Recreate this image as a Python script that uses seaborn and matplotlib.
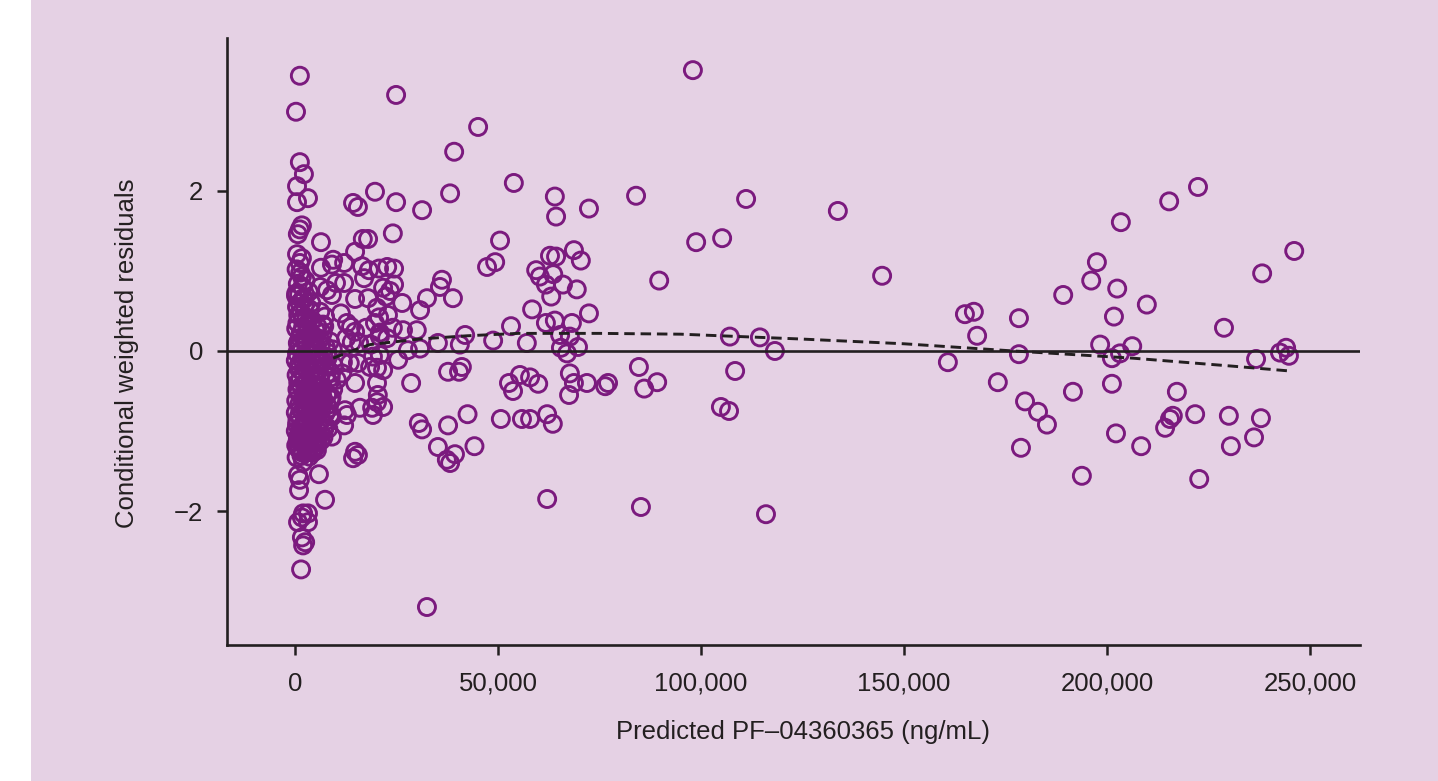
import matplotlib
matplotlib.use("Agg")
import matplotlib.pyplot as plt
from matplotlib.patches import Rectangle
import pandas as pd
import seaborn as sns

# ---------------- data ----------------
# sparse points, 40,000-120,000 ng/mL
pred_a = [98000, 45100, 53900, 64000, 64300, 72400, 84000, 111100, 50500, 49300,
          47300, 98800, 105200, 89700, 62800, 64300, 68700, 70400, 59400, 60300,
          63600, 61800, 66000, 69400, 63100, 58400, 72400, 53200, 61800, 64000,
          68200, 48800, 57100, 65300, 67700, 65500, 67000, 69700, 107100, 114500,
          118200, 84700, 89200, 86000, 108400, 52700, 55400, 57900, 59900, 53700,
          67700, 68700, 67500, 71900, 76400, 77100, 50700, 55900, 57900, 62100,
          63500, 104900, 106900, 62100, 85200, 116000]
cwres_a = [3.51, 2.80, 2.10, 1.93, 1.68, 1.78, 1.94, 1.90, 1.38, 1.11,
           1.05, 1.36, 1.41, 0.88, 1.19, 1.18, 1.26, 1.13, 1.01, 0.93,
           0.96, 0.83, 0.83, 0.77, 0.68, 0.52, 0.47, 0.31, 0.35, 0.38,
           0.35, 0.13, 0.10, 0.20, 0.18, 0.04, -0.03, 0.05, 0.18, 0.17,
           0.00, -0.20, -0.39, -0.47, -0.25, -0.40, -0.30, -0.33, -0.41, -0.50,
           -0.28, -0.40, -0.55, -0.40, -0.44, -0.40, -0.85, -0.85, -0.85, -0.79,
           -0.91, -0.70, -0.75, -1.85, -1.95, -2.04]

# sparse points, above 130,000 ng/mL
pred_r = [133700, 144600, 160800, 165000, 167200, 168000, 173100, 178300, 178300, 179800,
          183000, 185200, 178800, 189200, 191600, 193800, 196100, 197500, 198300, 202500,
          201700, 203200, 201200, 206200, 201200, 209800, 202200, 208400, 217200, 221700,
          215500, 214300, 216200, 222700, 228800, 230000, 230500, 236200, 237900, 236700,
          242600, 244100, 244800, 238200, 246100, 203400, 222400, 215300]
cwres_r = [1.75, 0.94, -0.14, 0.46, 0.49, 0.19, -0.39, 0.41, -0.04, -0.63,
           -0.76, -0.92, -1.21, 0.70, -0.51, -1.56, 0.88, 1.11, 0.08, 0.78,
           0.43, -0.03, -0.09, 0.06, -0.41, 0.58, -1.03, -1.19, -0.51, -0.79,
           -0.85, -0.96, -0.81, -1.60, 0.29, -0.81, -1.19, -1.08, -0.84, -0.10,
           -0.02, 0.04, -0.06, 0.97, 1.25, 1.61, 2.05, 1.87]

# points between 10,000 and 45,000 ng/mL
pred_m = [24900, 39200, 38200, 14300, 15500, 19700, 24900, 31300, 24100, 16700,
          18000, 14800, 12100, 16500, 18200, 20700, 22700, 24400, 10100, 12100,
          14800, 17000, 18000, 21700, 23400, 24400, 22400, 26400, 30800, 32500,
          36200, 35700, 38900, 11300, 12800, 13800, 14800, 17500, 20200, 20700,
          22900, 19700, 20900, 24100, 22700, 30000, 26600, 41900, 35200, 30800,
          40600, 27800, 12600, 14000, 15800, 18700, 20900, 10300, 11600, 11800,
          13500, 14800, 15500, 18500, 20200, 21700, 19200, 20900, 25400, 20200,
          20400, 20200, 19000, 19200, 21700, 16000, 12300, 12800, 12100, 14800,
          15500, 14300, 28600, 30500, 31300, 37700, 40400, 41100, 42500, 44200,
          37700, 35200, 39400, 37400, 38200, 32500]
cwres_m = [3.20, 2.49, 1.97, 1.85, 1.80, 1.99, 1.86, 1.76, 1.47, 1.40,
           1.40, 1.24, 1.10, 1.06, 1.01, 1.03, 1.05, 1.03, 0.85, 0.85,
           0.65, 0.91, 0.66, 0.79, 0.75, 0.83, 0.68, 0.60, 0.51, 0.66,
           0.89, 0.80, 0.66, 0.47, 0.35, 0.30, 0.24, 0.29, 0.54, 0.42,
           0.45, 0.35, 0.23, 0.29, 0.16, 0.26, 0.26, 0.20, 0.10, 0.03,
           0.08, 0.01, 0.16, 0.11, 0.10, 0.08, 0.18, -0.36, -0.28, -0.14,
           -0.15, -0.40, -0.15, -0.20, -0.21, -0.24, -0.07, -0.05, -0.11, -0.40,
           -0.55, -0.64, -0.71, -0.80, -0.70, -0.71, -0.74, -0.80, -0.93, -1.26,
           -1.30, -1.34, -0.40, -0.90, -0.98, -0.26, -0.26, -0.20, -0.79, -1.19,
           -0.93, -1.20, -1.29, -1.36, -1.40, -3.20]

# isolated points below 10,000 ng/mL
pred_l = [1200, 250, 1200, 2200, 500, 3200, 500, 1700, 1200, 700,
          6400, 500, 1700, 1200, 6400, 9400, 9100, 1700, 6200, 7900,
          9100, 250, 2000, 6900, 6200, 7400, 9100, 5400, 2000, 5900,
          7400, 750, 1200, 1000, 2000, 3200, 750, 3200, 1700, 1700,
          2500, 2000, 1500]
cwres_l = [3.44, 2.99, 2.36, 2.21, 2.06, 1.91, 1.86, 1.57, 1.52, 1.46,
           1.36, 1.21, 1.16, 1.10, 1.04, 1.14, 1.08, 0.93, 0.80, 0.76,
           0.70, 0.69, 0.66, 0.33, 0.49, 0.43, -1.07, -1.24, -1.39, -1.54,
           -1.86, -1.55, -1.61, -1.74, -2.03, -2.03, -2.14, -2.14, -2.08, -2.33,
           -2.39, -2.43, -2.73]

# dense cluster below 10,000 ng/mL
pred_c = [400, 1300, 2600, 700, 1800, 3400, 1000, 2300, 4000, 500,
          300, 1100, 2400, 3600, 800, 1900, 4300, 5600, 2900, 300,
          1400, 3100, 4800, 6800, 8600, 2200, 700, 5200, 3800, 1600,
          2700, 4400, 6100, 7600, 9300, 500, 1200, 2000, 3400, 5800,
          200, 900, 1700, 2500, 3300, 4100, 4900, 5700, 6500, 7300,
          8100, 8900, 400, 1300, 2100, 2900, 3700, 4500, 5300, 6100,
          6900, 7700, 8500, 9500, 600, 1500, 2300, 3100, 3900, 4700,
          5500, 6300, 7100, 7900, 8700, 9400, 300, 1100, 1900, 2700,
          3500, 4300, 5100, 5900, 6700, 7500, 8300, 9100, 200, 1000,
          1800, 2600, 3400, 4200, 5000, 5800, 6600, 7400, 8200, 500,
          1400, 2200, 3000, 3800, 4600, 5400, 6200, 7000, 800, 1600,
          2400, 3200, 4000, 4800, 5600, 300, 1200, 2000, 2800, 3600,
          4400, 700, 1600, 2500, 3300, 1000, 2100, 400, 1800, 2900,
          600, 1500, 2800, 3700, 5000, 6400, 7200, 8000, 900, 2000,
          3000, 4600, 5500, 7000, 8800, 1000, 2400, 3500, 6000, 800,
          2000, 3300, 4800, 6700, 7900, 1300, 2700, 4100, 5300, 9000,
          600, 1900, 3100, 4400, 5800, 7200, 8700, 1500, 3700, 6400,
          200, 1200, 2600, 4100, 5100, 700, 1800, 3500, 2300, 900]
cwres_c = [1.02, 0.98, 0.88, 0.84, 0.80, 0.74, 0.70, 0.65, 0.60, 0.55,
           0.72, 0.60, 0.57, 0.52, 0.45, 0.41, 0.38, 0.30, 0.33, 0.28,
           0.22, 0.25, 0.18, 0.22, 0.12, 0.14, 0.10, 0.06, 0.04, 0.00,
           0.08, 0.11, 0.15, 0.05, 0.02, -0.03, 0.16, -0.06, -0.02, -0.08,
           -0.12, -0.18, -0.10, -0.21, -0.14, -0.25, -0.17, -0.22, -0.11, -0.19,
           -0.08, -0.27, -0.30, -0.35, -0.28, -0.38, -0.31, -0.42, -0.36, -0.33,
           -0.45, -0.30, -0.40, -0.18, -0.48, -0.44, -0.52, -0.47, -0.55, -0.50,
           -0.58, -0.51, -0.62, -0.55, -0.60, -0.48, -0.62, -0.66, -0.60, -0.70,
           -0.64, -0.72, -0.68, -0.75, -0.70, -0.78, -0.72, -0.82, -0.77, -0.81,
           -0.76, -0.85, -0.80, -0.88, -0.83, -0.90, -0.86, -0.93, -0.97, -0.92,
           -0.96, -0.91, -1.00, -0.95, -1.04, -0.98, -1.02, -1.08, -1.06, -1.10,
           -1.04, -1.12, -1.08, -1.15, -1.11, -1.18, -1.22, -1.16, -1.25, -1.20,
           -1.27, -1.21, -1.31, -1.14, -1.26, -1.23, -1.09, -1.33, -1.05, -1.17,
           0.35, 0.48, 0.42, 0.20, 0.27, 0.08, 0.31, -0.02, 0.05, 0.30,
           -0.04, 0.02, -0.14, -0.06, -0.33, -0.23, -0.40, -0.20, -0.60, -0.39,
           -0.57, -0.59, -0.63, -0.56, -0.68, -0.72, -0.78, -0.66, -0.81, -0.58,
           -0.87, -0.93, -0.90, -0.97, -1.08, -0.98, -0.80, -1.14, -1.03, -1.12,
           -1.00, -1.02, -1.19, -1.24, -1.20, -1.11, -1.27, -1.32, -0.66, -0.52]

# smoothed trend (dashed line)
trend_x = [9400, 14000, 18500, 30800, 42400, 55000, 75000, 95000,
           124400, 150000, 177000, 206400, 231000, 245000]
trend_y = [-0.09, 0.00, 0.08, 0.15, 0.19, 0.22, 0.22, 0.21,
           0.15, 0.09, 0.00, -0.09, -0.19, -0.25]

x_tick_values = [0, 50000, 100000, 150000, 200000, 250000]
x_tick_labels = ["0", "50,000", "100,000", "150,000", "200,000", "250,000"]
y_tick_values = [-2, 0, 2]
y_tick_labels = ["\u22122", "0", "2"]

x_label = "Predicted PF\u201304360365 (ng/mL)"
y_label = "Conditional weighted residuals"

# ---------------- styling ----------------
sns.set_theme(style="ticks")
plt.rcParams["font.family"] = ["Liberation Sans", "DejaVu Sans"]

BG = "#E5D1E4"
PURPLE = "#7B1A7E"
INK = "#231F20"
W, H = 1438, 781

pred_all = pred_a + pred_r + pred_m + pred_l + pred_c
cwres_all = cwres_a + cwres_r + cwres_m + cwres_l + cwres_c
assert len(pred_all) == len(cwres_all)
df = pd.DataFrame({"pred": pred_all, "cwres": cwres_all})

fig = plt.figure(figsize=(W / 100, H / 100), dpi=100, facecolor="white")
fig.patches.append(Rectangle((31 / W, 0), 1 - 31 / W, 1, transform=fig.transFigure,
                             facecolor=BG, edgecolor="none", zorder=-10))

left, right, top, bottom = 226.7, 1360, 38.3, 644.7
ax = fig.add_axes([left / W, 1 - bottom / H, (right - left) / W, (bottom - top) / H])
ax.set_facecolor(BG)

sns.scatterplot(data=df, x="pred", y="cwres", ax=ax, marker="o", s=150,
                facecolors="none", edgecolor=PURPLE, zorder=2)
pts = ax.collections[-1]
pts.set_sizes([150])
pts.set_linewidth(2.1)
pts.set_facecolor("none")
pts.set_edgecolor(PURPLE)

ax.axhline(0, color=INK, lw=1.9, zorder=3)
sns.lineplot(x=trend_x, y=trend_y, ax=ax, color=INK, lw=2.1,
             linestyle=(0, (3.6, 2.0)), errorbar=None, sort=False, zorder=4)

ax.set_xlim(-16820, 262300)
ax.set_ylim(-3.671, 3.908)
ax.set_xticks(x_tick_values)
ax.set_xticklabels(x_tick_labels)
ax.set_yticks(y_tick_values)
ax.set_yticklabels(y_tick_labels)

for side in ("top", "right"):
    ax.spines[side].set_visible(False)
for side in ("left", "bottom"):
    ax.spines[side].set_color(INK)
    ax.spines[side].set_linewidth(1.9)

ax.tick_params(direction="out", length=7, width=1.8, color=INK,
               labelcolor=INK, labelsize=18.5)
ax.tick_params(axis="x", pad=12.5)
ax.tick_params(axis="y", pad=10)

ax.set_xlabel(x_label, fontsize=18.5, color=INK)
ax.set_ylabel(y_label, fontsize=18.5, color=INK)
ax.xaxis.set_label_coords(0.5088, -0.124)
ax.yaxis.set_label_coords(-0.0772, 0.4808)

fig.savefig("out.png", dpi=100, facecolor="white")
